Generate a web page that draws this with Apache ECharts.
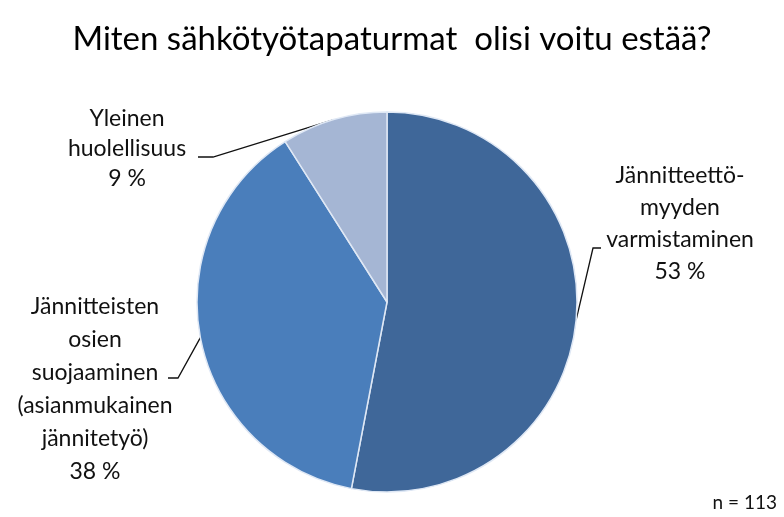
<!DOCTYPE html>
<html><head><meta charset="utf-8">
<script src="https://cdn.jsdelivr.net/npm/echarts@6/dist/echarts.min.js"></script>
<style>html,body{margin:0;padding:0;background:#fff}#c{width:784px;height:517px}</style>
</head><body><div id="c"></div>
<script>
const titleText = 'Miten sähkötyötapaturmat  olisi voitu estää?';
const categories = ['Jännitteettö-\nmyyden\nvarmistaminen', 'Jännitteisten\nosien\nsuojaaminen\n(asianmukainen\njännitetyö)', 'Yleinen\nhuolellisuus'];
const values = [53, 38, 9];
const percentLabels = ['53 %', '38 %', '9 %'];
const noteText = 'n = 113';
const colors = ['#3F6799', '#4A7EBB', '#A5B6D4'];
// label centres and elbow points (layout only)
const labelLayouts = [
  {x: 680, y: 224, ex: 593, ey: 248, hx: 601, lh: 32},
  {x: 95, y: 389, ex: 178, ey: 378, hx: 168, lh: 33},
  {x: 127, y: 149, ex: 213, ey: 157, hx: 198, lh: 30}
];
const chart = echarts.init(document.getElementById('c'), null, {renderer: 'canvas'});
const FONT = 'Lato';
chart.setOption({
  backgroundColor: '#ffffff',
  animation: false,
  title: [{
    text: titleText, left: 'center', top: 18,
    textStyle: {fontFamily: FONT, fontSize: 33, fontWeight: 'normal', color: '#000'}
  }, {
    text: noteText, right: 2, top: 488,
    textStyle: {fontFamily: FONT, fontSize: 19, fontWeight: 'normal', color: '#111'}
  }],
  series: [{
    type: 'pie',
    center: [387, 302],
    radius: 190,
    startAngle: 90,
    clockwise: true,
    data: categories.map((c, i) => ({
      name: c, value: values[i], itemStyle: {color: colors[i]},
      label: {lineHeight: labelLayouts[i].lh}
    })),
    itemStyle: {borderColor: '#dfe8f5', borderWidth: 1.5},
    label: {
      show: true,
      position: 'outside',
      formatter: p => p.name + '\n' + percentLabels[p.dataIndex],
      fontFamily: FONT, fontSize: 23, lineHeight: 32, color: '#111', align: 'center'
    },
    labelLine: {show: true, length: 10, length2: 10, lineStyle: {color: '#111', width: 1.3}},
    labelLayout: function (params) {
      const L = labelLayouts[params.dataIndex];
      const p0 = params.labelLinePoints[0];
      return {
        x: L.x, y: L.y, align: 'center', verticalAlign: 'middle',
        labelLinePoints: [p0, [L.ex, L.ey], [L.hx, L.ey]]
      };
    }
  }]
});
</script></body></html>
